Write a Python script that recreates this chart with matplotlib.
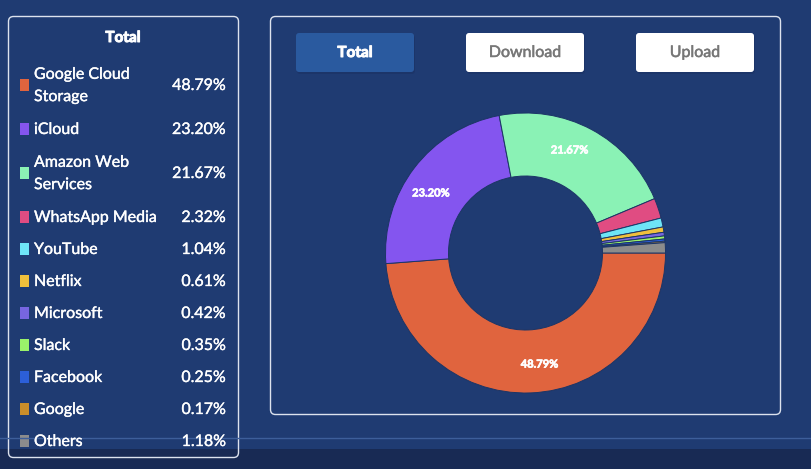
import matplotlib
matplotlib.use("Agg")
import matplotlib.pyplot as plt
from matplotlib.patches import FancyBboxPatch, Rectangle
import matplotlib.patheffects as pe
import numpy as np

plt.rcParams['font.family'] = ['Lato', 'DejaVu Sans']

# data
labels = ["Google Cloud\nStorage", "iCloud", "Amazon Web\nServices", "WhatsApp Media",
          "YouTube", "Netflix", "Microsoft", "Slack", "Facebook", "Google", "Others"]
shares = [48.79, 23.20, 21.67, 2.32, 1.04, 0.61, 0.42, 0.35, 0.25, 0.17, 1.18]
colors = ["#e0643e", "#8455ef", "#8af2b5", "#e04c82", "#6ee5f7", "#f0c03c",
          "#7766e0", "#9af26a", "#2c5fd8", "#c98d2a", "#8c8c8c"]
buttons = ["Total", "Download", "Upload"]

BG = "#1f3b72"
W, H = 811, 469

fig = plt.figure(figsize=(W / 100, H / 100), dpi=100, facecolor=BG)
bg = fig.add_axes([0, 0, 1, 1])
bg.set_xlim(0, W)
bg.set_ylim(H, 0)
bg.axis("off")
bg.set_facecolor(BG)

# bottom strip
bg.add_patch(Rectangle((0, 449), W, 20, facecolor="#182a54", edgecolor="none"))
bg.plot([0, W], [438.5, 438.5], color="#3d5e9a", lw=1)

# panels
def panel(x0, y0, x1, y1):
    bg.add_patch(FancyBboxPatch((x0, y0), x1 - x0, y1 - y0,
                                boxstyle="round,pad=0,rounding_size=5",
                                facecolor="none", edgecolor="#dde3ee", lw=1))

panel(8.5, 16.5, 238.5, 457.5)
panel(270.5, 16.5, 780.5, 414.5)

def stroke(w, c="white"):
    return [pe.withStroke(linewidth=w, foreground=c)]

# legend
bg.text(123, 38, "Total", ha="center", va="center", color="white",
        fontsize=11, fontweight="bold", path_effects=stroke(0.7))
row_y = [85, 129, 173, 217, 249, 281, 313, 345, 377, 409, 441]
for lab, val, col, y in zip(labels, shares, colors, row_y):
    bg.add_patch(Rectangle((20, y - 6), 9, 12, facecolor=col, edgecolor="none"))
    bg.text(34, y + 1, lab, ha="left", va="center", color="white",
            fontsize=11.5, linespacing=1.75, path_effects=stroke(0.25))
    bg.text(226, y + 1, f"{val:.2f}%", ha="right", va="center", color="white",
            fontsize=11.5, path_effects=stroke(0.25))

# buttons
btn_x = [296, 466, 636]
for name, x in zip(buttons, btn_x):
    active = name == "Total"
    fc = "#2a5a9f" if active else "white"
    tc = "white" if active else "#777777"
    bg.add_patch(FancyBboxPatch((x + 1, 35), 118, 39,
                                boxstyle="round,pad=0,rounding_size=3",
                                facecolor="#1a3164", edgecolor="none", alpha=0.6))
    bg.add_patch(FancyBboxPatch((x, 33), 118, 39,
                                boxstyle="round,pad=0,rounding_size=3",
                                facecolor=fc, edgecolor="none"))
    if active:
        bg.text(x + 59, 53, name, ha="center", va="center", color=tc,
                fontsize=11, fontweight="bold", path_effects=stroke(0.7))
    else:
        bg.text(x + 59, 53, name, ha="center", va="center", color=tc,
                fontsize=11.5, path_effects=stroke(0.35, tc))

# donut
cx, cy, r = 525.5, 253, 140
ax = fig.add_axes([(cx - r) / W, (H - cy - r) / H, 2 * r / W, 2 * r / H])
ax.set_facecolor("none")
wedges, _ = ax.pie(shares, colors=colors, startangle=0, counterclock=False,
                   wedgeprops=dict(width=0.45, edgecolor="#1c3566", linewidth=0.7))
ang = 0.0
for val, w in zip(shares, wedges):
    mid = ang - val / 2 * 3.6 + 5
    ang -= val * 3.6
    if val > 5:
        t = np.deg2rad(mid)
        ax.text(0.8 * np.cos(t), 0.8 * np.sin(t), f"{val:.2f}%",
                ha="center", va="center", color="white", fontsize=8,
                fontweight="bold", path_effects=stroke(0.5))
ax.set_xlim(-1, 1)
ax.set_ylim(-1, 1)
ax.axis("off")

fig.savefig("out.png", dpi=100, facecolor=BG)
